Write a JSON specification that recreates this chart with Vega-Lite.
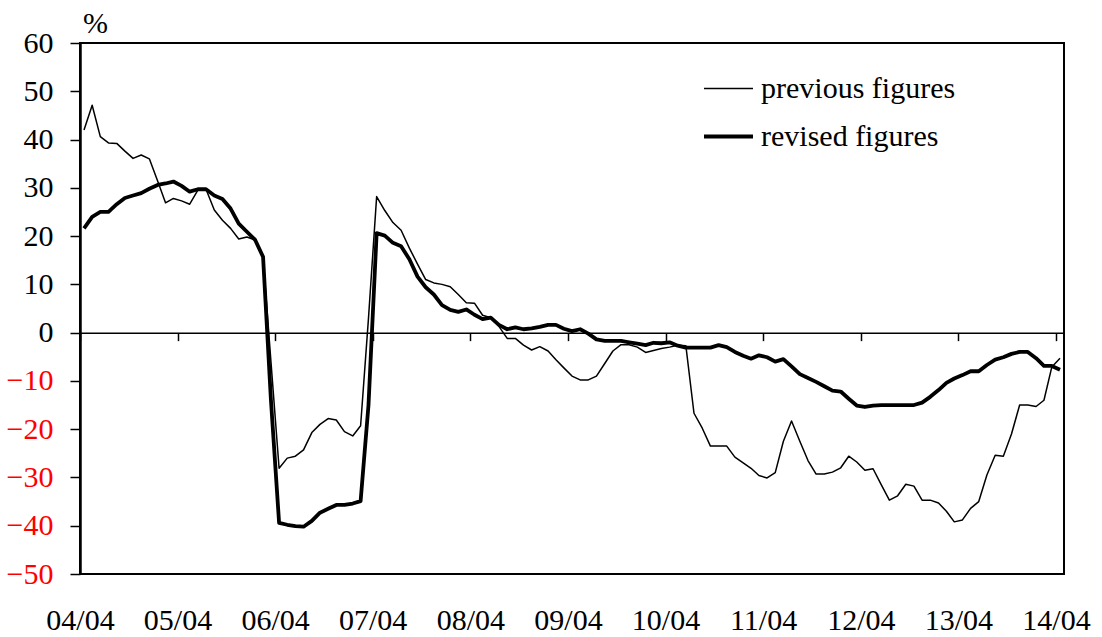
{
  "$schema": "https://vega.github.io/schema/vega-lite/v6.json",
  "autosize": "none",
  "padding": {"left": 80, "top": 43, "right": 38, "bottom": 63},
  "width": 984,
  "height": 531,
  "background": "white",
  "config": {
    "view": {"stroke": "black", "strokeWidth": 2},
    "font": "Liberation Serif"
  },
  "data": {
    "values": [
      {"month": "2004-04", "previous": 42.0, "revised": 21.6},
      {"month": "2004-05", "previous": 47.1, "revised": 24.0},
      {"month": "2004-06", "previous": 40.6, "revised": 25.0},
      {"month": "2004-07", "previous": 39.3, "revised": 25.0},
      {"month": "2004-08", "previous": 39.2, "revised": 26.6},
      {"month": "2004-09", "previous": 37.6, "revised": 27.9},
      {"month": "2004-10", "previous": 36.1, "revised": 28.4},
      {"month": "2004-11", "previous": 36.8, "revised": 28.9},
      {"month": "2004-12", "previous": 36.0, "revised": 29.8},
      {"month": "2005-01", "previous": 31.4, "revised": 30.6},
      {"month": "2005-02", "previous": 26.9, "revised": 30.9},
      {"month": "2005-03", "previous": 27.8, "revised": 31.3},
      {"month": "2005-04", "previous": 27.3, "revised": 30.4},
      {"month": "2005-05", "previous": 26.6, "revised": 29.2},
      {"month": "2005-06", "previous": 29.5, "revised": 29.7},
      {"month": "2005-07", "previous": 29.7, "revised": 29.7},
      {"month": "2005-08", "previous": 25.4, "revised": 28.4},
      {"month": "2005-09", "previous": 23.3, "revised": 27.7},
      {"month": "2005-10", "previous": 21.6, "revised": 25.7},
      {"month": "2005-11", "previous": 19.4, "revised": 22.6},
      {"month": "2005-12", "previous": 19.8, "revised": 20.9},
      {"month": "2006-01", "previous": 19.2, "revised": 19.2},
      {"month": "2006-02", "previous": 15.7, "revised": 15.7},
      {"month": "2006-03", "previous": -6.0, "revised": -14.0},
      {"month": "2006-04", "previous": -28.1, "revised": -39.4},
      {"month": "2006-05", "previous": -26.0, "revised": -39.8},
      {"month": "2006-06", "previous": -25.6, "revised": -40.1},
      {"month": "2006-07", "previous": -24.3, "revised": -40.2},
      {"month": "2006-08", "previous": -20.7, "revised": -39.0},
      {"month": "2006-09", "previous": -19.0, "revised": -37.3},
      {"month": "2006-10", "previous": -17.8, "revised": -36.5},
      {"month": "2006-11", "previous": -18.1, "revised": -35.7},
      {"month": "2006-12", "previous": -20.5, "revised": -35.7},
      {"month": "2007-01", "previous": -21.4, "revised": -35.4},
      {"month": "2007-02", "previous": -19.3, "revised": -34.9},
      {"month": "2007-03", "previous": 3.0, "revised": -15.0},
      {"month": "2007-04", "previous": 28.2, "revised": 20.6},
      {"month": "2007-05", "previous": 25.3, "revised": 20.1},
      {"month": "2007-06", "previous": 22.8, "revised": 18.6},
      {"month": "2007-07", "previous": 21.2, "revised": 17.9},
      {"month": "2007-08", "previous": 17.5, "revised": 15.2},
      {"month": "2007-09", "previous": 14.2, "revised": 11.6},
      {"month": "2007-10", "previous": 11.0, "revised": 9.4},
      {"month": "2007-11", "previous": 10.3, "revised": 7.9},
      {"month": "2007-12", "previous": 10.0, "revised": 5.7},
      {"month": "2008-01", "previous": 9.5, "revised": 4.7},
      {"month": "2008-02", "previous": 7.9, "revised": 4.3},
      {"month": "2008-03", "previous": 6.2, "revised": 4.8},
      {"month": "2008-04", "previous": 6.1, "revised": 3.7},
      {"month": "2008-05", "previous": 3.6, "revised": 2.8},
      {"month": "2008-06", "previous": 3.1, "revised": 3.1},
      {"month": "2008-07", "previous": 1.3, "revised": 1.6},
      {"month": "2008-08", "previous": -1.2, "revised": 0.7},
      {"month": "2008-09", "previous": -1.2, "revised": 1.1},
      {"month": "2008-10", "previous": -2.6, "revised": 0.7},
      {"month": "2008-11", "previous": -3.6, "revised": 0.9},
      {"month": "2008-12", "previous": -2.9, "revised": 1.2},
      {"month": "2009-01", "previous": -3.8, "revised": 1.6},
      {"month": "2009-02", "previous": -5.6, "revised": 1.6},
      {"month": "2009-03", "previous": -7.3, "revised": 0.8},
      {"month": "2009-04", "previous": -9.0, "revised": 0.3},
      {"month": "2009-05", "previous": -9.8, "revised": 0.7},
      {"month": "2009-06", "previous": -9.8, "revised": -0.2},
      {"month": "2009-07", "previous": -9.0, "revised": -1.4},
      {"month": "2009-08", "previous": -6.4, "revised": -1.7},
      {"month": "2009-09", "previous": -3.8, "revised": -1.7},
      {"month": "2009-10", "previous": -2.5, "revised": -1.7},
      {"month": "2009-11", "previous": -2.5, "revised": -2.0},
      {"month": "2009-12", "previous": -3.0, "revised": -2.3},
      {"month": "2010-01", "previous": -4.1, "revised": -2.6},
      {"month": "2010-02", "previous": -3.7, "revised": -2.1},
      {"month": "2010-03", "previous": -3.3, "revised": -2.2},
      {"month": "2010-04", "previous": -3.0, "revised": -2.0},
      {"month": "2010-05", "previous": -2.6, "revised": -2.7},
      {"month": "2010-06", "previous": -2.7, "revised": -3.1},
      {"month": "2010-07", "previous": -16.7, "revised": -3.1},
      {"month": "2010-08", "previous": -19.8, "revised": -3.1},
      {"month": "2010-09", "previous": -23.5, "revised": -3.1},
      {"month": "2010-10", "previous": -23.5, "revised": -2.6},
      {"month": "2010-11", "previous": -23.5, "revised": -3.0},
      {"month": "2010-12", "previous": -25.8, "revised": -4.0},
      {"month": "2011-01", "previous": -27.0, "revised": -4.8},
      {"month": "2011-02", "previous": -28.1, "revised": -5.4},
      {"month": "2011-03", "previous": -29.6, "revised": -4.7},
      {"month": "2011-04", "previous": -30.1, "revised": -5.1},
      {"month": "2011-05", "previous": -29.0, "revised": -6.0},
      {"month": "2011-06", "previous": -22.5, "revised": -5.5},
      {"month": "2011-07", "previous": -18.3, "revised": -7.0},
      {"month": "2011-08", "previous": -22.5, "revised": -8.6},
      {"month": "2011-09", "previous": -26.5, "revised": -9.4},
      {"month": "2011-10", "previous": -29.3, "revised": -10.2},
      {"month": "2011-11", "previous": -29.3, "revised": -11.1},
      {"month": "2011-12", "previous": -28.9, "revised": -12.0},
      {"month": "2012-01", "previous": -28.0, "revised": -12.2},
      {"month": "2012-02", "previous": -25.6, "revised": -13.7},
      {"month": "2012-03", "previous": -26.8, "revised": -15.1},
      {"month": "2012-04", "previous": -28.5, "revised": -15.4},
      {"month": "2012-05", "previous": -28.2, "revised": -15.1},
      {"month": "2012-06", "previous": -31.5, "revised": -15.0},
      {"month": "2012-07", "previous": -34.7, "revised": -15.0},
      {"month": "2012-08", "previous": -33.8, "revised": -15.0},
      {"month": "2012-09", "previous": -31.4, "revised": -15.0},
      {"month": "2012-10", "previous": -31.8, "revised": -15.0},
      {"month": "2012-11", "previous": -34.7, "revised": -14.5},
      {"month": "2012-12", "previous": -34.7, "revised": -13.3},
      {"month": "2013-01", "previous": -35.3, "revised": -11.9},
      {"month": "2013-02", "previous": -37.0, "revised": -10.4},
      {"month": "2013-03", "previous": -39.2, "revised": -9.5},
      {"month": "2013-04", "previous": -38.8, "revised": -8.8},
      {"month": "2013-05", "previous": -36.4, "revised": -8.0},
      {"month": "2013-06", "previous": -35.0, "revised": -8.0},
      {"month": "2013-07", "previous": -29.5, "revised": -6.7},
      {"month": "2013-08", "previous": -25.4, "revised": -5.6},
      {"month": "2013-09", "previous": -25.6, "revised": -5.1},
      {"month": "2013-10", "previous": -21.0, "revised": -4.4},
      {"month": "2013-11", "previous": -15.0, "revised": -4.0},
      {"month": "2013-12", "previous": -15.0, "revised": -4.0},
      {"month": "2014-01", "previous": -15.3, "revised": -5.3},
      {"month": "2014-02", "previous": -14.0, "revised": -6.9},
      {"month": "2014-03", "previous": -7.1, "revised": -6.9},
      {"month": "2014-04", "previous": -5.3, "revised": -7.7}
    ]
  },
  "layer": [
    {
      "mark": {"type": "line", "color": "black", "strokeJoin": "round"},
      "encoding": {
        "x": {
          "field": "month",
          "type": "temporal",
          "timeUnit": "utcyearmonth",
          "bandPosition": 0.5,
          "scale": {
            "domain": [
              {"year": 2004, "month": 4, "date": 1, "utc": true},
              {"year": 2014, "month": 5, "date": 1, "utc": true}
            ]
          },
          "axis": {
            "orient": "bottom",
            "title": null,
            "values": [
              {"year": 2004, "month": 4, "date": 1, "utc": true},
              {"year": 2005, "month": 4, "date": 1, "utc": true},
              {"year": 2006, "month": 4, "date": 1, "utc": true},
              {"year": 2007, "month": 4, "date": 1, "utc": true},
              {"year": 2008, "month": 4, "date": 1, "utc": true},
              {"year": 2009, "month": 4, "date": 1, "utc": true},
              {"year": 2010, "month": 4, "date": 1, "utc": true},
              {"year": 2011, "month": 4, "date": 1, "utc": true},
              {"year": 2012, "month": 4, "date": 1, "utc": true},
              {"year": 2013, "month": 4, "date": 1, "utc": true},
              {"year": 2014, "month": 4, "date": 1, "utc": true}
            ],
            "labelExpr": "utcFormat(datum.value, '%y/%m')",
            "ticks": false,
            "tickSize": 0,
            "domain": false,
            "grid": false,
            "labelFlush": false,
            "labelOverlap": false,
            "labelBaseline": "alphabetic",
            "labelPadding": 55,
            "labelFont": "Liberation Serif",
            "labelFontSize": 30,
            "labelColor": "black"
          }
        },
        "y": {
          "field": "previous",
          "type": "quantitative",
          "scale": {"domain": [-50, 60], "nice": false, "zero": false},
          "axis": {
            "values": [-50, -40, -30, -20, -10, 0, 10, 20, 30, 40, 50, 60],
            "title": "%",
            "titleAngle": 0,
            "titleX": 15,
            "titleY": -11,
            "titleAlign": "center",
            "titleBaseline": "alphabetic",
            "titleFont": "Liberation Serif",
            "titleFontSize": 30,
            "titleFontWeight": "normal",
            "titleColor": "black",
            "grid": false,
            "domainColor": "black",
            "domainWidth": 2.5,
            "tickColor": "black",
            "tickWidth": 1.5,
            "tickSize": 10,
            "labelPadding": 17,
            "labelFont": "Liberation Serif",
            "labelFontSize": 30,
            "labelColor": {"condition": {"test": "datum.value < 0", "value": "#ff0000"}, "value": "black"}
          }
        },
        "strokeWidth": {
          "datum": "previous figures",
          "type": "nominal",
          "scale": {"domain": ["previous figures", "revised figures"], "range": [1.5, 3.8]},
          "legend": {
            "orient": "none",
            "legendX": 622,
            "legendY": 20,
            "title": null,
            "symbolType": "stroke",
            "symbolSize": 2400,
            "symbolStrokeColor": "black",
            "labelFont": "Liberation Serif",
            "labelFontSize": 30,
            "labelColor": "black",
            "labelOffset": 6,
            "labelLimit": 400,
            "rowPadding": 6,
            "padding": 0
          }
        }
      }
    },
    {
      "mark": {"type": "line", "color": "black", "strokeJoin": "round"},
      "encoding": {
        "x": {
          "field": "month",
          "type": "temporal",
          "timeUnit": "utcyearmonth",
          "bandPosition": 0.5,
          "axis": {
            "orient": "bottom",
            "offset": -241.36,
            "title": null,
            "values": [
              {"year": 2004, "month": 4, "date": 1, "utc": true},
              {"year": 2005, "month": 4, "date": 1, "utc": true},
              {"year": 2006, "month": 4, "date": 1, "utc": true},
              {"year": 2007, "month": 4, "date": 1, "utc": true},
              {"year": 2008, "month": 4, "date": 1, "utc": true},
              {"year": 2009, "month": 4, "date": 1, "utc": true},
              {"year": 2010, "month": 4, "date": 1, "utc": true},
              {"year": 2011, "month": 4, "date": 1, "utc": true},
              {"year": 2012, "month": 4, "date": 1, "utc": true},
              {"year": 2013, "month": 4, "date": 1, "utc": true},
              {"year": 2014, "month": 4, "date": 1, "utc": true}
            ],
            "labels": false,
            "ticks": true,
            "tickSize": 8,
            "tickColor": "black",
            "tickWidth": 1.5,
            "domain": true,
            "domainColor": "black",
            "domainWidth": 1.5,
            "grid": false
          }
        },
        "y": {"field": "revised", "type": "quantitative"},
        "strokeWidth": {"datum": "revised figures", "type": "nominal"}
      }
    }
  ],
  "resolve": {"axis": {"x": "independent"}}
}
